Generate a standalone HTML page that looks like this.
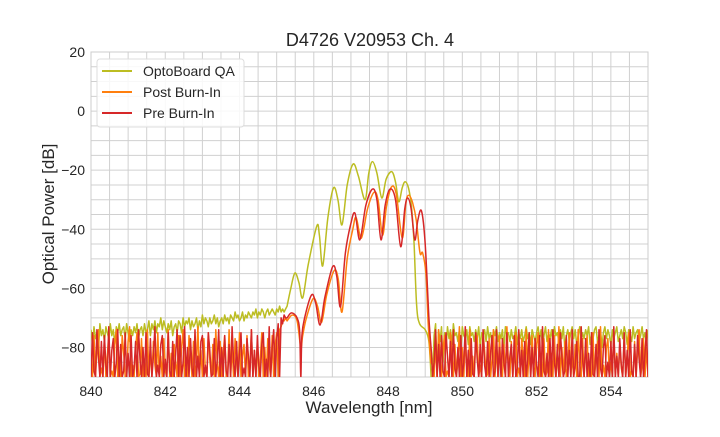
<!DOCTYPE html>
<html><head><meta charset="utf-8"><style>
body{margin:0;background:#fff;}
svg text{font-family:"Liberation Sans",Arial,sans-serif;fill:#262626;}
</style></head><body>
<svg width="720" height="432" viewBox="0 0 720 432">
<defs><clipPath id="plotclip"><rect x="91" y="52" width="557" height="325"/></clipPath></defs>
<rect x="0" y="0" width="720" height="432" fill="#fff"/>
<g id="grid"></g>
<rect x="91" y="52" width="557" height="325" fill="none" stroke="#cccccc" stroke-width="1"/>
<g id="series" clip-path="url(#plotclip)"></g>
<g id="ticks"></g>
<text x="370" y="46" font-size="18" text-anchor="middle">D4726 V20953 Ch. 4</text>
<text x="369" y="413" font-size="17" text-anchor="middle">Wavelength [nm]</text>
<text x="54" y="214" font-size="17" text-anchor="middle" transform="rotate(-90 54 214)">Optical Power [dB]</text>
<g>
<rect x="97" y="59" width="147" height="68" rx="3" fill="#fff" fill-opacity="0.85" stroke="#dddddd"/>
<g><line x1="102" y1="71" x2="132" y2="71" stroke="#bcbd22" stroke-width="2"/><text x="143" y="76" font-size="14">OptoBoard QA</text></g>
<g><line x1="102" y1="92" x2="132" y2="92" stroke="#ff7f0e" stroke-width="2"/><text x="143" y="97" font-size="14">Post Burn-In</text></g>
<g><line x1="102" y1="113" x2="132" y2="113" stroke="#d62728" stroke-width="2"/><text x="143" y="118" font-size="14">Pre Burn-In</text></g>
</g>
</svg>
<script>
const xTicks=[840,842,844,846,848,850,852,854];
const yTicks=[20,0,-20,-40,-60,-80];
const noiseStep=0.04;
const leftStart=840, rightStart=849.2;
const greenLeft=[-74,-79,-73,-77,-75,-81,-72,-76,-74,-78,-73,-75,-77,-72,-76,-74,-79,-73,-75,-72,-76,-74,-73,-77,-72,-75,-78,-74,-76,-73,-75,-72,-77,-74,-73,-76,-72,-75,-74,-71,-76,-72,-74,-71,-75,-72,-73,-70,-74,-71,-73,-75,-72,-74,-71,-76,-73,-72,-75,-71,-72,-75,-70,-73,-71,-72,-70,-74,-71,-73,-72,-70,-74,-71,-73,-69,-72,-70,-71,-73,-70,-72,-71,-69,-72,-70,-73,-71,-70,-72,-69,-71,-70,-72,-69,-70,-71,-68,-70,-69,-71,-70,-68,-71,-69,-70,-68,-69,-70,-68,-69,-67,-70,-68,-69,-67,-68,-70,-68,-67,-69,-68,-67,-68,-69,-67,-68,-66,-68,-67,-68,-67];
const greenPeakWl=[845.28,845.38,845.49,845.6,845.70,845.85,846.08,846.15,846.24,846.38,846.53,846.65,846.76,846.9,847.06,847.2,847.38,847.48,847.58,847.7,847.83,847.95,848.10,848.2,848.29,848.38,848.46,848.55,848.63,848.7,848.77,848.85,849.0,849.1,849.16];
const greenPeakDb=[-66,-60,-54.8,-58,-63.2,-52,-38.9,-42,-52.4,-36,-26,-30,-38.5,-25,-17.9,-22,-30,-21,-17.1,-21,-29.4,-23,-20.5,-24,-30.7,-26,-23.9,-26,-32.3,-45,-66,-72,-74,-78,-90];
const greenRight=[-90,-76,-72,-90,-74,-78,-73,-85,-75,-80,-73,-77,-74,-79,-72,-76,-75,-78,-74,-81,-73,-76,-77,-74,-79,-73,-76,-75,-78,-74,-77,-73,-80,-75,-76,-74,-78,-73,-77,-75,-79,-74,-76,-73,-78,-75,-77,-74,-80,-73,-76,-75,-78,-74,-77,-76,-73,-79,-75,-77,-74,-78,-76,-73,-77,-75,-79,-74,-76,-78,-75,-73,-77,-74,-80,-76,-73,-78,-75,-77,-74,-79,-73,-76,-75,-78,-74,-77,-73,-80,-76,-74,-78,-75,-73,-77,-74,-79,-76,-73,-78,-75,-77,-74,-76,-73,-79,-75,-77,-74,-73,-78,-76,-74,-80,-75,-73,-77,-74,-76,-79,-74,-77,-75,-73,-78,-76,-74,-77,-73,-75,-79,-74,-76,-78,-73,-77,-75,-74,-78,-76,-73,-77,-75,-79,-74];
const postLeft=[-84,-90,-76,-90,-81,-74,-90,-87,-90,-77,-90,-83,-75,-90,-88,-90,-79,-74,-90,-85,-90,-76,-82,-90,-90,-78,-73,-90,-86,-90,-80,-75,-90,-89,-77,-90,-84,-90,-74,-90,-81,-90,-78,-86,-90,-75,-90,-83,-90,-77,-88,-90,-74,-90,-82,-90,-79,-85,-90,-76,-90,-80,-74,-90,-87,-90,-76,-83,-90,-78,-90,-85,-73,-90,-81,-90,-77,-88,-90,-75,-84,-90,-79,-90,-74,-86,-90,-78,-90,-82,-76,-90,-88,-74,-90,-80,-90,-77,-85,-90,-75,-90,-83,-79,-90,-76,-90,-87,-74,-90,-81,-90,-78,-90,-84,-75,-90,-80,-90,-77,-86,-90,-76,-90,-79,-75,-90,-74,-73,-71,-71,-70];
const postPeakWl=[845.28,845.42,845.55,845.65,845.7,845.8,845.98,846.1,846.21,846.35,846.55,846.66,846.76,846.9,847.05,847.14,847.28,847.45,847.62,847.73,847.85,847.96,848.09,848.22,848.38,848.48,848.56,848.66,848.76,848.86,848.93,849.02,849.08,849.15];
const postPeakDb=[-71,-69,-71,-80,-76,-70,-63.5,-66,-71.5,-62,-54,-57,-68,-50,-40,-36,-43,-33,-27.5,-30,-42,-32,-25.7,-28,-43,-31,-28.5,-31,-37,-48,-48,-55,-72,-85];
const postRight=[-86,-90,-78,-90,-74,-84,-90,-81,-76,-90,-88,-90,-75,-82,-90,-79,-90,-85,-73,-90,-80,-90,-77,-87,-90,-74,-90,-83,-90,-78,-76,-90,-86,-90,-75,-81,-90,-89,-77,-90,-84,-74,-90,-80,-90,-76,-88,-90,-79,-90,-73,-85,-90,-78,-90,-82,-75,-90,-87,-90,-77,-83,-90,-74,-90,-81,-90,-76,-86,-90,-79,-75,-90,-84,-90,-77,-90,-88,-74,-90,-82,-90,-76,-90,-85,-73,-90,-80,-90,-78,-90,-87,-75,-90,-83,-90,-79,-90,-74,-86,-90,-77,-90,-81,-76,-90,-88,-90,-75,-90,-84,-78,-90,-73,-90,-86,-90,-80,-77,-90,-85,-90,-74,-90,-82,-90,-79,-87,-90,-76,-90,-83,-75,-90,-88,-90,-78,-90,-81,-74,-90,-86,-77,-90,-80,-90];
const preLeft=[-90,-75,-88,-90,-74,-83,-90,-78,-90,-76,-86,-90,-73,-90,-81,-77,-90,-85,-74,-90,-79,-90,-88,-75,-90,-82,-90,-76,-90,-87,-78,-90,-74,-84,-90,-80,-90,-75,-89,-90,-77,-90,-83,-73,-90,-86,-90,-79,-76,-90,-84,-90,-75,-88,-90,-78,-90,-82,-74,-90,-76,-90,-85,-73,-90,-80,-90,-77,-87,-90,-74,-90,-83,-90,-78,-76,-90,-86,-90,-75,-81,-90,-89,-77,-90,-84,-74,-90,-80,-90,-76,-88,-90,-79,-90,-73,-85,-90,-78,-90,-82,-75,-90,-87,-90,-77,-83,-90,-74,-90,-81,-90,-76,-86,-90,-79,-75,-90,-84,-90,-73,-90,-80,-74,-90,-77,-72,-90,-70,-72,-69,-70];
const prePeakWl=[845.28,845.40,845.55,845.62,845.65,845.68,845.76,845.94,846.05,846.17,846.3,846.51,846.62,846.72,846.85,847.0,847.11,847.24,847.4,847.58,847.7,847.81,847.92,848.05,848.2,848.34,848.45,848.53,848.62,848.72,848.8,848.90,849.0,849.1,849.17];
const prePeakDb=[-70,-68.3,-70,-75,-90,-76,-69.6,-62.2,-65,-72.4,-63,-52.6,-56,-66.2,-48,-38,-34.6,-43.6,-32,-26.4,-30,-43.6,-32,-26.4,-30,-45.9,-33,-29.4,-33,-43.6,-37,-33.8,-45,-70,-82];
const preRight=[-90,-85,-74,-90,-79,-90,-76,-88,-90,-75,-83,-90,-78,-90,-74,-87,-90,-80,-90,-76,-90,-85,-73,-90,-81,-90,-77,-89,-90,-75,-84,-90,-79,-90,-74,-86,-90,-78,-90,-82,-76,-90,-88,-74,-90,-80,-90,-77,-85,-90,-75,-90,-83,-79,-90,-76,-90,-87,-74,-90,-81,-90,-78,-90,-84,-75,-90,-80,-90,-77,-86,-90,-76,-90,-73,-88,-90,-82,-90,-77,-90,-74,-85,-90,-79,-90,-75,-83,-90,-88,-76,-90,-81,-90,-74,-90,-86,-78,-90,-90,-73,-84,-90,-77,-90,-82,-90,-75,-89,-90,-79,-90,-74,-87,-90,-80,-76,-90,-85,-90,-78,-90,-73,-90,-83,-90,-77,-86,-90,-75,-90,-81,-90,-74,-88,-90,-79,-90,-76,-84,-90,-77,-90,-82,-74,-90];

const X0=91,X1=648,Y0=52,Y1=377;
const xMin=840,xMax=855,yMin=-90,yMax=20;
function sx(v){return X0+(v-xMin)/(xMax-xMin)*(X1-X0);}
function sy(v){return Y1-(v-yMin)/(yMax-yMin)*(Y1-Y0);}
const NS='http://www.w3.org/2000/svg';
const grid=document.getElementById('grid');
for(let v=xMin;v<=xMax+1e-9;v+=0.5){const l=document.createElementNS(NS,'line');
l.setAttribute('x1',sx(v));l.setAttribute('x2',sx(v));l.setAttribute('y1',Y0);l.setAttribute('y2',Y1);
l.setAttribute('stroke','#d0d0d0');l.setAttribute('stroke-width','1');


grid.appendChild(l);}
for(let v=yMin;v<=yMax+1e-9;v+=5){const l=document.createElementNS(NS,'line');
l.setAttribute('x1',X0);l.setAttribute('x2',X1);l.setAttribute('y1',sy(v));l.setAttribute('y2',sy(v));
l.setAttribute('stroke','#d0d0d0');l.setAttribute('stroke-width','1');


grid.appendChild(l);}
const ticks=document.getElementById('ticks');
xTicks.forEach(v=>{const t=document.createElementNS(NS,'text');
t.setAttribute('x',sx(v));t.setAttribute('y',Y1+19);t.setAttribute('font-size','14');t.setAttribute('text-anchor','middle');
t.textContent=v;


ticks.appendChild(t);});
yTicks.forEach(v=>{const t=document.createElementNS(NS,'text');
t.setAttribute('x',X0-6);t.setAttribute('y',sy(v)+5);t.setAttribute('font-size','14');t.setAttribute('text-anchor','end');
t.textContent=v<0?'\u2212'+(-v):String(v);


ticks.appendChild(t);});
function build(left,pw,pd,right){
  let d='';
  left.forEach((v,i)=>{d+=(i?'L':'M')+sx(leftStart+i*noiseStep).toFixed(1)+','+sy(v).toFixed(1);});
  const P=pw.map((w,i)=>[sx(w),sy(pd[i])]);
  d+='L'+P[0][0].toFixed(1)+','+P[0][1].toFixed(1);
  for(let i=0;i<P.length-1;i++){
    const p0=P[Math.max(0,i-1)],p1=P[i],p2=P[i+1],p3=P[Math.min(P.length-1,i+2)];
    const c1x=p1[0]+(p2[0]-p0[0])/6,c1y=p1[1]+(p2[1]-p0[1])/6;
    const c2x=p2[0]-(p3[0]-p1[0])/6,c2y=p2[1]-(p3[1]-p1[1])/6;
    d+='C'+c1x.toFixed(1)+','+c1y.toFixed(1)+' '+c2x.toFixed(1)+','+c2y.toFixed(1)+' '+p2[0].toFixed(1)+','+p2[1].toFixed(1);
  }
  right.forEach((v,i)=>{const w=rightStart+i*noiseStep;if(w<=xMax+0.01)d+='L'+sx(w).toFixed(1)+','+sy(v).toFixed(1);});
  return d;}
const series=document.getElementById('series');
function draw(d,color,name){const p=document.createElementNS(NS,'path');
p.setAttribute('d',d);p.setAttribute('fill','none');p.setAttribute('stroke',color);
p.setAttribute('stroke-width','1.5');p.setAttribute('stroke-linejoin','round');


series.appendChild(p);}
draw(build(greenLeft,greenPeakWl,greenPeakDb,greenRight),'#bcbd22','optoboard-qa-line');
draw(build(postLeft,postPeakWl,postPeakDb,postRight),'#ff7f0e','post-burn-in-line');
draw(build(preLeft,prePeakWl,prePeakDb,preRight),'#d62728','pre-burn-in-line');
</script>
</body></html>
